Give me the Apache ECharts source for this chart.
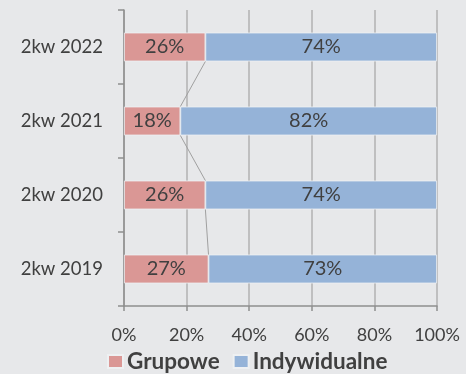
<!DOCTYPE html>
<html>
<head>
<meta charset="utf-8">
<script src="https://cdn.jsdelivr.net/npm/echarts@6/dist/echarts.min.js"></script>
<style>
  html, body { margin: 0; padding: 0; background: #e7e8ea; }
  #chart { width: 466px; height: 374px; }
</style>
</head>
<body>
<div id="chart"></div>
<script>
// Quarter labels, bottom to top on the category axis
const categories = ['2kw 2019', '2kw 2020', '2kw 2021', '2kw 2022'];
// Shares in percent
const grupowe = [27, 26, 18, 26];
const indywidualne = [73, 74, 82, 74];
const seriesNames = ['Grupowe', 'Indywidualne'];
const xTicks = [0, 20, 40, 60, 80, 100];

const BAR_RATIO = 0.39;
const FONT = 'Lato, "Open Sans", sans-serif';
const TEXT = '#404040';

// Connectors between the Grupowe segment ends of neighbouring bars
const connectorData = [];
for (let i = 0; i < grupowe.length - 1; i++) {
  connectorData.push([grupowe[i], i, grupowe[i + 1], i + 1]);
}

const chart = echarts.init(document.getElementById('chart'));
chart.setOption({
  backgroundColor: '#e7e8ea',
  animation: false,
  textStyle: { fontFamily: FONT },
  grid: { left: 124, right: 29, top: 10, bottom: 68, containLabel: false },
  legend: {
    data: seriesNames,
    bottom: -4,
    left: 102,
    icon: 'rect',
    itemWidth: 15,
    itemHeight: 13,
    itemGap: 13,
    textStyle: { fontFamily: FONT, fontSize: 22.5, fontWeight: 'bold', color: TEXT, padding: [0, 0, 0, -1] }
  },
  xAxis: {
    type: 'value',
    min: xTicks[0],
    max: xTicks[xTicks.length - 1],
    interval: xTicks[1] - xTicks[0],
    axisLabel: { formatter: '{value}%', fontSize: 18, color: TEXT, margin: 20, fontFamily: FONT },
    axisLine: { show: true, lineStyle: { color: '#8e8e8e', width: 1.5 } },
    axisTick: { show: true, length: 5, lineStyle: { color: '#8e8e8e', width: 1.5 } },
    splitLine: { show: true, lineStyle: { color: '#b2b2b2', width: 1.5 } }
  },
  yAxis: {
    type: 'category',
    data: categories,
    axisLabel: { fontSize: 18.5, color: TEXT, margin: 21, fontFamily: FONT },
    axisLine: { show: true, lineStyle: { color: '#8e8e8e', width: 1.5 } },
    axisTick: { show: true, length: 6, lineStyle: { color: '#8e8e8e', width: 1.5 } },
    splitLine: { show: false }
  },
  series: [
    {
      name: seriesNames[0],
      type: 'bar',
      stack: 'total',
      barWidth: (BAR_RATIO * 100) + '%',
      data: grupowe,
      itemStyle: { color: '#da9795', borderColor: '#eef0f2', borderWidth: 0.8 },
      label: { show: true, position: 'inside', formatter: '{c}%', fontSize: 20, color: TEXT, fontFamily: FONT }
    },
    {
      name: seriesNames[1],
      type: 'bar',
      stack: 'total',
      barWidth: (BAR_RATIO * 100) + '%',
      data: indywidualne,
      itemStyle: { color: '#95b3d8', borderColor: '#eef0f2', borderWidth: 0.8 },
      label: { show: true, position: 'inside', formatter: '{c}%', fontSize: 20, color: TEXT, fontFamily: FONT }
    },
    {
      type: 'custom',
      silent: true,
      encode: { x: [0, 2], y: [1, 3] },
      data: connectorData,
      renderItem: function (params, api) {
        const p0 = api.coord([api.value(0), api.value(1)]);
        const p1 = api.coord([api.value(2), api.value(3)]);
        const h = api.size([0, 1])[1] * BAR_RATIO;
        return {
          type: 'line',
          shape: { x1: p0[0], y1: p0[1] - h / 2, x2: p1[0], y2: p1[1] + h / 2 },
          style: { stroke: '#a0a0a0', lineWidth: 1 }
        };
      }
    }
  ]
});
</script>
</body>
</html>
